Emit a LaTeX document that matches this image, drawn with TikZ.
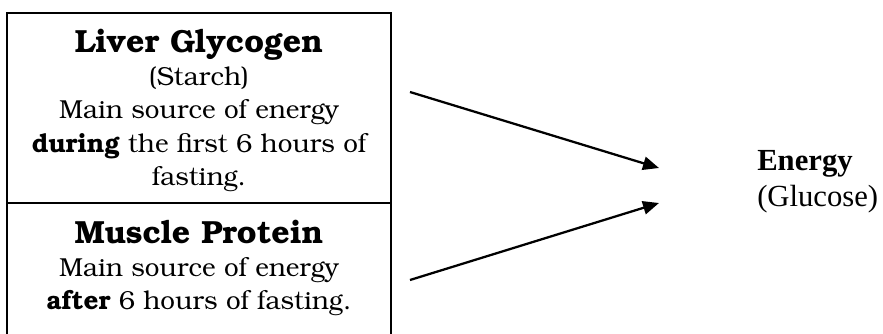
\documentclass[tikz,border=0pt]{standalone}
\usepackage[T1]{fontenc}
\usepackage{fontspec}
\setmainfont{Liberation Serif}
\newfontfamily\timesfont{Liberation Serif}
\usetikzlibrary{arrows.meta}
\newcommand{\bookfont}{\fontencoding{T1}\fontfamily{pbk}\selectfont}
\tikzset{
  srcbox/.style={align=center, anchor=north, inner sep=0pt,
    font=\bookfont\fontsize{19.5}{25}\selectfont},
  flow/.style={-{Triangle[length=12pt,width=10pt]}, line width=1.7pt}
}

\begin{document}
\begin{tikzpicture}[x=0.75pt,y=-0.75pt]

    \useasboundingbox (0,0) rectangle (883,333);
    \draw[line width=1.3pt] (7,340) -- (7,13) -- (391,13) -- (391,340);
    \draw[line width=1.3pt] (7,203) -- (391,203);
    \node[srcbox] (liver) at (199,29) {{\fontsize{24}{25}\selectfont\bfseries Liver Glycogen}\\
        (Starch)\\ Main source of energy\\ \textbf{during} the first 6 hours of\\ fasting.};
    \node[srcbox] (muscle) at (199,220) {{\fontsize{24}{25}\selectfont\bfseries Muscle Protein}\\
        Main source of energy\\ \textbf{after} 6 hours of fasting.};
    \node[align=left, anchor=north west, inner sep=0pt, font=\timesfont\fontsize{23}{27}\selectfont] (energy) at (757,150) {\textbf{Energy}\\ (Glucose)};
    \coordinate (a1) at (410,92);
    \coordinate (a2) at (410,280);
    \coordinate (e1) at (659,168);
    \coordinate (e2) at (659,203);
    \draw[flow] (a1) -- (e1);
    \draw[flow] (a2) -- (e2);
        \end{tikzpicture}
\end{document}
